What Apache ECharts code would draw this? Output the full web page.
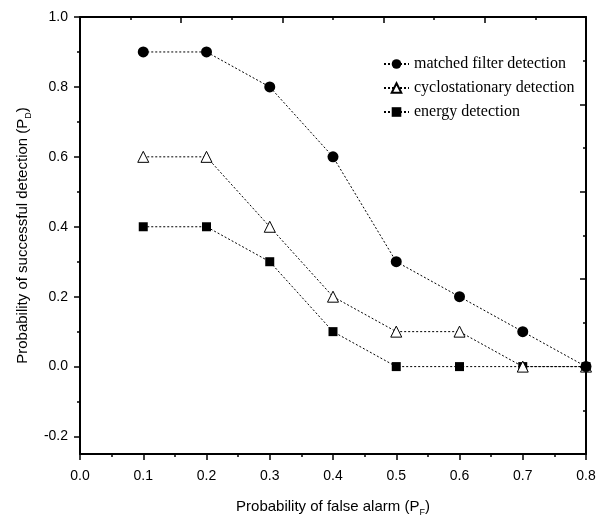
<!DOCTYPE html>
<html>
<head>
<meta charset="utf-8">
<script src="https://cdn.jsdelivr.net/npm/echarts@6/dist/echarts.min.js"></script>
<style>
  html, body { margin: 0; padding: 0; background: #fff; }
  #chart { width: 606px; height: 522px; }
</style>
</head>
<body>
<div id="chart"></div>
<script>
// Probability of false alarm (x) and detection probability per method (y)
const falseAlarm      = [0.1, 0.2, 0.3, 0.4, 0.5, 0.6, 0.7, 0.8];
const matchedFilter   = [0.9, 0.9, 0.8, 0.6, 0.3, 0.2, 0.1, 0.0];
const cyclostationary = [0.6, 0.6, 0.4, 0.2, 0.1, 0.1, 0.0, 0.0];
const energy          = [0.4, 0.4, 0.3, 0.1, 0.0, 0.0, 0.0, 0.0];

const seriesNames = ['matched filter detection', 'cyclostationary detection', 'energy detection'];

// Left axis tick positions (labelled majors, short minors)
const yMajorTicks = [-0.2, 0.0, 0.2, 0.4, 0.6, 0.8, 1.0];
const yMinorTicks = [-0.1, 0.1, 0.3, 0.5, 0.7, 0.9];

const pairs = ys => falseAlarm.map((x, i) => [x, ys[i]]);

const AX = '#000';
const tickFont = { fontFamily: 'Liberation Sans', fontSize: 14, color: '#000' };
const titleFont = {
  fontFamily: 'Liberation Sans', fontSize: 15, color: '#000', lineHeight: 20,
  rich: { sub: { fontFamily: 'Liberation Sans', fontSize: 9, color: '#000', lineHeight: 9, verticalAlign: 'bottom' } }
};
const dotted = { color: '#000', width: 1, type: [2, 2] };

const chart = echarts.init(document.getElementById('chart'), null, { renderer: 'canvas' });
chart.setOption({
  animation: false,
  backgroundColor: '#fff',
  grid: { left: 80, right: 20, top: 17, bottom: 66 },
  legend: {
    orient: 'vertical',
    left: 378,
    top: 51,
    itemWidth: 25,
    itemHeight: 12,
    itemGap: 8,
    data: seriesNames,
    textStyle: { fontFamily: 'Liberation Serif', fontSize: 16, color: '#000' }
  },
  xAxis: [
    {
      type: 'value', position: 'bottom', min: 0, max: 0.8, interval: 0.1,
      name: 'Probability of false alarm (P{sub|F})', nameLocation: 'middle', nameGap: 43,
      nameTextStyle: titleFont,
      axisLine: { show: true, onZero: false, lineStyle: { color: AX, width: 2 } },
      axisTick: { show: true, length: 6, lineStyle: { color: AX, width: 1.5 } },
      minorTick: { show: true, splitNumber: 2, length: 3, lineStyle: { color: AX, width: 1.5 } },
      axisLabel: Object.assign({ margin: 15, formatter: v => v.toFixed(1) }, tickFont),
      splitLine: { show: false }
    },
    {
      type: 'value', position: 'top', min: 0, max: 10, interval: 2,
      axisLine: { show: true, onZero: false, lineStyle: { color: AX, width: 2 } },
      axisTick: { show: true, inside: true, length: 6, lineStyle: { color: AX, width: 1.5 } },
      minorTick: { show: true, splitNumber: 2, length: 3, lineStyle: { color: AX, width: 1.5 } },
      axisLabel: { show: false },
      splitLine: { show: false }
    }
  ],
  yAxis: [
    {
      type: 'value', position: 'left', min: -0.25, max: 1.0,
      name: 'Probability of successful detection (P{sub|D})', nameLocation: 'middle', nameGap: 46,
      nameTextStyle: titleFont,
      axisLine: { show: true, onZero: false, lineStyle: { color: AX, width: 2 } },
      axisTick: { show: true, length: 6, customValues: yMajorTicks, lineStyle: { color: AX, width: 1.5 } },
      axisLabel: Object.assign({ margin: 12, customValues: yMajorTicks, formatter: v => v.toFixed(1) }, tickFont),
      splitLine: { show: false }
    },
    {
      type: 'value', position: 'left', min: -0.25, max: 1.0,
      axisLine: { show: false, onZero: false },
      axisTick: { show: true, length: 3, customValues: yMinorTicks, lineStyle: { color: AX, width: 1.5 } },
      axisLabel: { show: false },
      splitLine: { show: false }
    },
    {
      type: 'value', position: 'right', min: 0, max: 10, interval: 2,
      axisLine: { show: true, onZero: false, lineStyle: { color: AX, width: 2 } },
      axisTick: { show: true, inside: true, length: 6, lineStyle: { color: AX, width: 1.5 } },
      minorTick: { show: true, splitNumber: 2, length: 3, lineStyle: { color: AX, width: 1.5 } },
      axisLabel: { show: false },
      splitLine: { show: false }
    }
  ],
  series: [
    {
      name: seriesNames[0], type: 'line', z: 4, data: pairs(matchedFilter),
      symbol: 'circle', symbolSize: 11,
      itemStyle: { color: '#000' }, lineStyle: dotted
    },
    {
      name: seriesNames[1], type: 'line', z: 3, data: pairs(cyclostationary),
      symbol: 'triangle', symbolSize: 11,
      itemStyle: { color: '#fff', borderColor: '#000', borderWidth: 1 }, lineStyle: dotted
    },
    {
      name: seriesNames[2], type: 'line', z: 2, data: pairs(energy),
      symbol: 'rect', symbolSize: 9,
      itemStyle: { color: '#000' }, lineStyle: dotted
    }
  ]
});
</script>
</body>
</html>
